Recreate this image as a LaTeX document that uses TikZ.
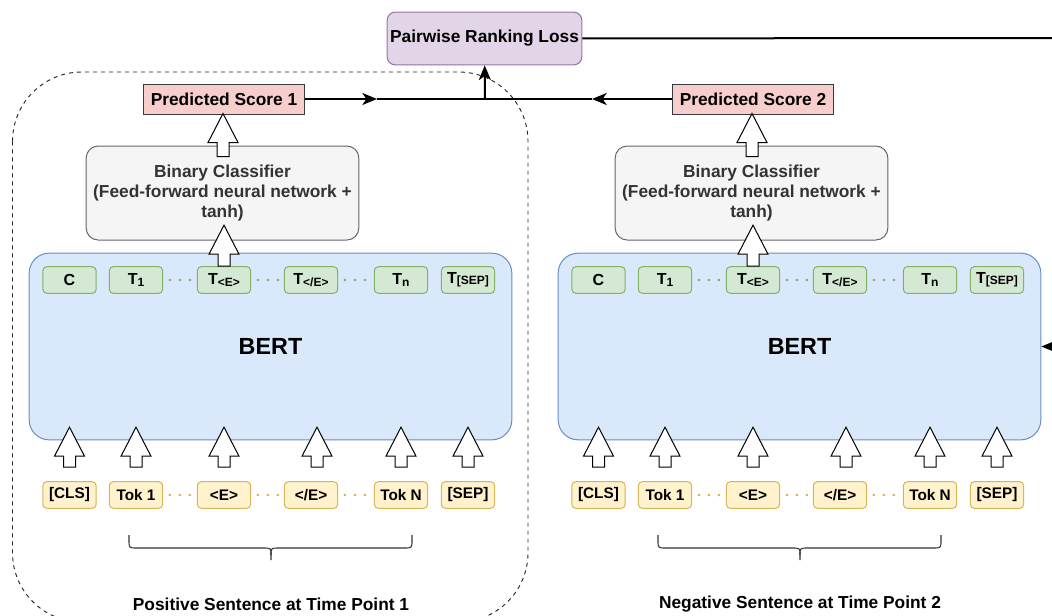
\documentclass[tikz,border=0pt]{standalone}
\usepackage{fontspec}
\setmainfont{Liberation Sans}
\usepackage{tikz}
\usetikzlibrary{arrows.meta, positioning, calc}
\definecolor{colorLossFill}{HTML}{E1D5E7}
\definecolor{colorLossLine}{HTML}{9673A6}
\definecolor{colorScoreFill}{HTML}{F8CECC}
\definecolor{colorScoreLine}{HTML}{36393D}
\definecolor{colorClsFill}{HTML}{F5F5F5}
\definecolor{colorClsLine}{HTML}{666666}
\definecolor{colorClsText}{HTML}{333333}
\definecolor{colorBertFill}{HTML}{DAE8FC}
\definecolor{colorBertLine}{HTML}{6C8EBF}
\definecolor{colorOutFill}{HTML}{D5E8D4}
\definecolor{colorOutLine}{HTML}{82B366}
\definecolor{colorInFill}{HTML}{FFF2CC}
\definecolor{colorInLine}{HTML}{D6B656}
\newcommand{\tsub}[1]{\raisebox{-1pt}{\fontsize{9}{9}\selectfont #1}}
\tikzset{
  box/.style={draw, line width=0.75pt, align=center, inner sep=1pt, font=\bfseries\fontsize{13}{15}\selectfont},
  lossbox/.style={box, fill=colorLossFill, draw=colorLossLine, rounded corners=6pt, minimum width=146pt, minimum height=39.5pt},
  scorebox/.style={box, fill=colorScoreFill, draw=colorScoreLine, minimum width=121pt, minimum height=22.5pt},
  clsbox/.style={box, fill=colorClsFill, draw=colorClsLine, text=colorClsText, rounded corners=9pt, minimum width=204.5pt, minimum height=70.5pt},
  bertbox/.style={box, fill=colorBertFill, draw=colorBertLine, rounded corners=15pt, minimum width=362pt, minimum height=140pt, font=\bfseries\fontsize{17.5}{20}\selectfont},
  outtok/.style={box, fill=colorOutFill, draw=colorOutLine, rounded corners=3pt, minimum width=40pt, minimum height=20pt, font=\bfseries\fontsize{12}{14}\selectfont},
  intok/.style={box, fill=colorInFill, draw=colorInLine, rounded corners=3pt, minimum width=40pt, minimum height=20pt, font=\bfseries\fontsize{11.5}{14}\selectfont},
  caption/.style={font=\bfseries\fontsize{13}{15}\selectfont},
  flow/.style={line width=1.5pt, -{Stealth[length=11pt, width=9pt, inset=3pt]}},
  outdots/.style={colorOutLine, line width=2.2pt, line cap=round, dash pattern=on 0pt off 7.5pt, shorten <=5pt, shorten >=4pt},
  indots/.style={colorInLine, line width=2.2pt, line cap=round, dash pattern=on 0pt off 7.5pt, shorten <=5pt, shorten >=4pt},
  hollow/.style={draw=black, fill=white, line width=0.75pt},
  bracepen/.style={colorClsText, line width=0.8pt},
  pics/hollowup/.style={code={\draw[hollow] (-6,0) -- (-6,{-(#1-29)}) -- (-15,{-(#1-29)}) -- (0,-#1) -- (15,{-(#1-29)}) -- (6,{-(#1-29)}) -- (6,0) -- cycle;}}
}

\begin{document}
\begin{tikzpicture}[x=0.75pt, y=-0.75pt]
\useasboundingbox (0,0) rectangle (1052,615);
% dashed frame round the positive sentence
\begin{scope}
\clip (0,0) rectangle (1052,615);
\draw[black!85, line width=0.7pt, dash pattern=on 3pt off 3pt, rounded corners=52pt] (12.5,72) rectangle (528,622);
\end{scope}

\node[lossbox] (loss) at (484.5,38.5) {Pairwise Ranking Loss};

\foreach \s/\dx/\score/\sent in {1/0pt/{Predicted Score 1}/{Positive Sentence at Time Point 1}, 2/396.75pt/{Predicted Score 2}/{Negative Sentence at Time Point 2}}{
\begin{scope}[xshift=\dx]
\node[scorebox] (score\s) at (224,99) {\score};
\node[clsbox] (cls\s) at (222.5,193) {Binary Classifier\\(Feed-forward neural network +\\tanh)};
\node[bertbox] (bert\s) at (270.5,346.5) {BERT};
\foreach \x/\tl/\kl/\ax [count=\i] in {69.5/C/{[CLS]}/0, 136/T\tsub{1}/Tok 1/0, 224/T\tsub{<E>}/{<E>}/0, 311/T\tsub{</E>}/{</E>}/6, 401/T\tsub{n}/Tok N/0, 468/T\tsub{[SEP]}/{[SEP]}/0}{
  \node[outtok] (t\s-\i) at (\x,280) {\tl};
  \node[intok] (k\s-\i) at (\x,495) {\kl};
  \pic at ($(k\s-\i.north)+(\ax,-14)$) {hollowup=40};
}
\foreach \a/\b in {2/3, 3/4, 4/5}{
  \draw[outdots] (t\s-\a) -- (t\s-\b);
  \draw[indots] (k\s-\a) -- (k\s-\b);
}
\pic at ($(cls\s.north)+(0.5,11)$) {hollowup=43};
\pic at (t\s-3.north) {hollowup=41};
% brace under the sentence
\draw[bracepen] (129,535) -- (129,540) .. controls (129,548) .. (137,548) -- (263,548) .. controls (271,548) .. (271,555) -- (271,560);
\draw[bracepen] (412,535) -- (412,540) .. controls (412,548) .. (404,548) -- (279,548) .. controls (271,548) .. (271,555);
\node[caption] (sent\s) at (271,604) {\sent};
\end{scope}
}

% scores into the loss
\coordinate (a1) at (377,99);
\coordinate (a2) at (592,99);
\coordinate (junc) at (485,99);
\coordinate (edgeTop) at (1052,38);
\coordinate (edgeBert) at (1052,346.5);
\draw[flow] (score1) -- (a1);
\draw[line width=1.5pt] (a1) -- (a2);
\draw[flow] (score2) -- (a2);
\draw[flow] (junc) -- (loss);
\draw[line width=1.5pt] (loss) -- (edgeTop);
\draw[flow] (edgeBert) -- (bert2);
\end{tikzpicture}
\end{document}
